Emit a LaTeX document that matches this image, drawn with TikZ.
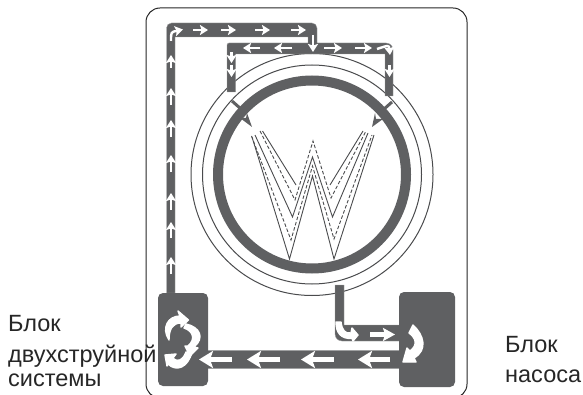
\documentclass[tikz,border=0pt]{standalone}
\usepackage{fontspec}
\setmainfont{Liberation Sans}
\usetikzlibrary{arrows.meta, positioning}
\definecolor{pipegray}{HTML}{5F6062}
\definecolor{inkgray}{HTML}{4A4B4D}

\begin{document}
\begin{tikzpicture}[
    x=1pt, y=-1pt,
    pipe/.style={fill=pipegray, draw=pipegray!60, line width=0.4pt},
    unit/.style={rectangle, fill=pipegray, rounded corners=5pt, inner sep=0pt},
    flow/.style={draw=white, line width=2.4pt, -{Stealth[length=8pt, width=10pt, inset=1.5pt]}},
    flowbig/.style={draw=white, line width=5.5pt, -{Stealth[length=14pt, width=17pt, inset=3pt]}},
    swirl/.style={fill=white, draw=white, line width=1.4pt, line join=round},
    wall/.style={draw=inkgray, line width=1pt},
    wsolid/.style={draw=inkgray, line width=0.9pt, line join=miter},
    wdash/.style={draw=inkgray, line width=0.9pt, dash pattern=on 3.5pt off 2pt},
    caption/.style={anchor=base west, inner sep=0pt, font=\fontsize{23.5}{26}\selectfont, text=black!85}
]
\useasboundingbox (0,0) rectangle (583,395);

% Captions
\node[caption] (jetfirst) at (8,331) {Блок};
\node[caption] (jetsecond) at (8,362) {двухструйной};
\node[caption] (jetthird) at (8,386) {системы};
\node[caption] (pumpfirst) at (505,352) {Блок};
\node[caption] (pumpsecond) at (505,382) {насоса};

% Frame
\draw[line width=1pt, draw=black!85, rounded corners=14pt] (146,8) rectangle (467,398);

% Drum
\draw[wall] (312,174.5) circle (121);
\draw[wall] (312,174.5) circle (109.5);
\draw[pipegray, line width=10pt] (312,174.5) circle (94);

% Upper pipes
\draw[pipe] (166.5,293) [rounded corners=5pt] -- (166.5,23) -- (317,23) [sharp corners] -- (317,43) [rounded corners=7pt] -- (393,43) [sharp corners] -- (393,96) -- (385,96) -- (385,54) -- (235.5,54) -- (235.5,92) -- (227,92) [rounded corners=2pt] -- (227,43) [sharp corners] -- (308,43) -- (308,37) -- (175,37) -- (175,293) -- cycle;

% Stubs into the drum
\draw[pipegray, line width=3pt] (232,101) -- (241,109);
\draw[pipegray, line width=3pt] (392,102) -- (383,110);
\fill[pipegray] (247,113) -- (252,127) -- (240,118) -- (246,118) -- cycle;
\fill[pipegray] (375,113) -- (372,127) -- (383,119) -- (376,119) -- cycle;

% Jets
\draw[wsolid] (252,137) -- (289.5,259) -- (312.5,176) -- (334,259) -- (374,135);
\draw[wsolid] (255,135) -- (292.5,217) -- (312.5,157) -- (332.5,217) -- (368,133);
\draw[wsolid] (262.5,131) -- (296,185);
\draw[wsolid] (363,131) -- (330,185);
\draw[wdash] (251.5,136) -- (291,240) -- (312.5,166) -- (334,239) -- (372,135);
\draw[wdash] (260,131) -- (295,200) -- (313,141) -- (331,198) -- (366,131);

% Lower pipes
\draw[pipe] (335,285) -- (344,285) -- (344,325) -- (405,325) -- (405,341) [rounded corners=7pt] -- (335,341) [sharp corners] -- cycle;
\fill[pipegray, draw=pipegray!60, line width=0.4pt] (200,350) rectangle (405,368);

% Units
\node[unit, minimum width=50pt, minimum height=93pt] (jetblock) at (183,339.5) {};
\node[unit, minimum width=56pt, minimum height=95pt] (pumpblock) at (427,339.5) {};

% Flow along the upper pipes
\draw[flow] (171,41) .. controls (171,32) .. (183,29.5);
\draw[flow] (193,30) -- (208,30);
\draw[flow] (221,30) -- (236,30);
\draw[flow] (255,30) -- (270,30);
\draw[flow] (291,30) -- (306,30);
\draw[flow] (313,35) -- (313,52);
\draw[flow] (324,48) -- (342,48);
\draw[flow] (355,48) -- (372,48);
\draw[flow] (377,49) .. controls (389,45) .. (390,55);
\draw[flow] (389.5,65) -- (389.5,77);
\draw[flow] (260,48) -- (243,48);
\draw[flow] (292,48) -- (274,48);
\draw[flow] (231.5,52) -- (231.5,63);
\draw[flow] (231.5,65) -- (231.5,77);

% Flow up the riser
\draw[flow] (171,68) -- (171,55);
\draw[flow] (171,105) -- (171,88);
\draw[flow] (171,137) -- (171,120);
\draw[flow] (171,172) -- (171,155);
\draw[flow] (171,210) -- (171,193);
\draw[flow] (171,238) -- (171,222);
\draw[flow] (171,274) -- (171,257);

% Flow along the lower pipes
\draw[flowbig] (231.5,359.5) -- (199,359.5);
\draw[flowbig] (280,359.5) -- (247,359.5);
\draw[flowbig] (333.5,359.5) -- (301,359.5);
\draw[flowbig] (390,359.5) -- (358,359.5);
\draw[white, line width=5pt, -{Stealth[length=12pt, width=13pt, inset=2pt]}] (370,334.5) -- (395,334.5);
\fill[swirl] (336,322) .. controls (336,333) and (341,339) .. (352,338.5) -- (353,341) -- (358,335) -- (352,328) -- (351,333) .. controls (345,334) and (342,330) .. (341,322) -- cycle;

% Turning arrows in the units
\fill[swirl] (413,325) .. controls (424,335) and (428,350) .. (414,358) -- (416,362) -- (403,362) -- (407,348) -- (410,351) .. controls (418,345) and (416,338) .. (409,333) -- cycle;
\fill[swirl] (169,340) .. controls (161,328) and (168,316) .. (180,316) -- (178,311) -- (188.5,320) -- (181,327) -- (181,323) .. controls (172,323) and (169,330) .. cycle;
\fill[swirl] (186,324) .. controls (200,327) and (205,338) .. (194,347) -- (198,348) -- (190,356) -- (185,346) -- (188,346) .. controls (196,339) and (193,331) .. (184,328) -- cycle;
\fill[swirl] (192,352) .. controls (188,368) and (176,372) .. (168,364) -- (167,366) -- (165,355) -- (176,354) -- (173,358) .. controls (178,363) and (183,360) .. (186,352) -- cycle;

\end{tikzpicture}
\end{document}
